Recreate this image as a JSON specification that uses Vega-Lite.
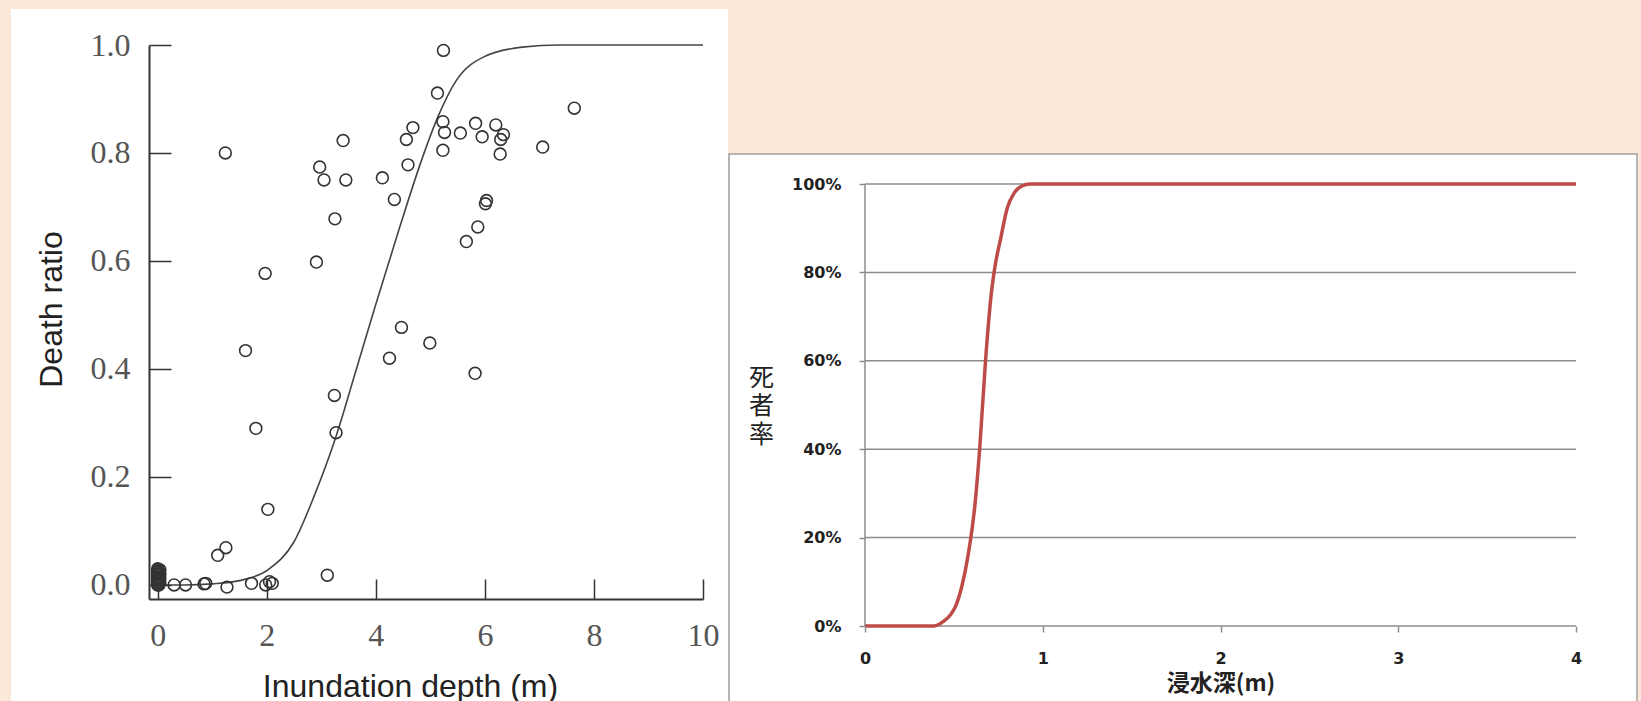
{
  "$schema": "https://vega.github.io/schema/vega-lite/v6.json",
  "background": "#fce8d9",
  "padding": {"left": 10, "top": 8, "right": 5, "bottom": 0},
  "spacing": 0,
  "config": {"view": {"stroke": null}, "axis": {"grid": false, "labelFlush": false, "labelOverlap": false}},
  "datasets": {
    "leftBox": [{"d": -2.691, "d2": 10.458, "r": -0.2167, "r2": 1.0667}],
    "leftCurve": [
      {"d": 0, "r": 0.0}, {"d": 0.5, "r": 0.0}, {"d": 1.0, "r": 0.002}, {"d": 1.5, "r": 0.008},
      {"d": 2.02, "r": 0.028}, {"d": 2.5, "r": 0.08}, {"d": 2.87, "r": 0.165}, {"d": 3.27, "r": 0.275},
      {"d": 3.6, "r": 0.385}, {"d": 4.0, "r": 0.52}, {"d": 4.43, "r": 0.66}, {"d": 4.85, "r": 0.79},
      {"d": 5.13, "r": 0.865}, {"d": 5.48, "r": 0.935}, {"d": 5.98, "r": 0.978}, {"d": 6.68, "r": 0.996},
      {"d": 7.38, "r": 1.0}, {"d": 8.5, "r": 1.0}, {"d": 10, "r": 1.0}
    ],
    "leftPoints": [
      {"d": 1.24, "r": 0.80}, {"d": 5.24, "r": 0.99}, {"d": 5.13, "r": 0.911}, {"d": 7.64, "r": 0.883},
      {"d": 5.23, "r": 0.858}, {"d": 5.26, "r": 0.838}, {"d": 5.23, "r": 0.805}, {"d": 5.55, "r": 0.837},
      {"d": 5.83, "r": 0.855}, {"d": 5.95, "r": 0.83}, {"d": 6.20, "r": 0.852}, {"d": 6.34, "r": 0.834},
      {"d": 6.29, "r": 0.825}, {"d": 6.28, "r": 0.798}, {"d": 7.06, "r": 0.811}, {"d": 4.68, "r": 0.847},
      {"d": 4.56, "r": 0.825}, {"d": 4.59, "r": 0.778}, {"d": 4.12, "r": 0.754}, {"d": 4.34, "r": 0.714},
      {"d": 3.40, "r": 0.823}, {"d": 2.97, "r": 0.774}, {"d": 3.05, "r": 0.75}, {"d": 3.45, "r": 0.75},
      {"d": 3.25, "r": 0.678}, {"d": 2.91, "r": 0.598}, {"d": 1.97, "r": 0.577}, {"d": 6.03, "r": 0.712},
      {"d": 6.01, "r": 0.706}, {"d": 5.87, "r": 0.663}, {"d": 5.66, "r": 0.636}, {"d": 4.47, "r": 0.477},
      {"d": 4.99, "r": 0.448}, {"d": 4.25, "r": 0.42}, {"d": 5.82, "r": 0.392}, {"d": 1.61, "r": 0.434},
      {"d": 3.24, "r": 0.351}, {"d": 1.80, "r": 0.29}, {"d": 3.27, "r": 0.282}, {"d": 2.02, "r": 0.14},
      {"d": 1.10, "r": 0.055}, {"d": 1.25, "r": 0.069}, {"d": 3.11, "r": 0.018}, {"d": 0.30, "r": 0.0},
      {"d": 0.51, "r": 0.0}, {"d": 0.85, "r": 0.002}, {"d": 0.88, "r": 0.003}, {"d": 1.27, "r": -0.004},
      {"d": 1.72, "r": 0.003}, {"d": 1.98, "r": 0.0}, {"d": 2.10, "r": 0.003}, {"d": 2.05, "r": 0.006},
      {"d": 0, "r": 0.0}, {"d": 0, "r": 0.003}, {"d": 0, "r": 0.006}, {"d": 0, "r": 0.009},
      {"d": 0, "r": 0.012}, {"d": 0, "r": 0.015}, {"d": 0, "r": 0.018}, {"d": 0, "r": 0.021},
      {"d": 0, "r": 0.024}, {"d": 0, "r": 0.027}, {"d": 0, "r": 0.03},
      {"d": 0.02, "r": 0.0}, {"d": 0.02, "r": 0.005}, {"d": 0.02, "r": 0.01}, {"d": 0.02, "r": 0.015},
      {"d": 0.02, "r": 0.02}, {"d": 0.02, "r": 0.025}, {"d": 0.04, "r": 0.004}, {"d": 0.04, "r": 0.012},
      {"d": 0.04, "r": 0.02}, {"d": 0.04, "r": 0.028}
    ],
    "rightBox": [{"d": -0.765, "d2": 4.343, "r": -0.1719, "r2": 1.0679}],
    "rightGrid": [{"r": 0}, {"r": 0.2}, {"r": 0.4}, {"r": 0.6}, {"r": 0.8}, {"r": 1.0}],
    "rightYLine": [{"d": 0, "r": 0, "r2": 1}],
    "rightCurve": [
      {"d": 0, "r": 0}, {"d": 0.39, "r": 0}, {"d": 0.44, "r": 0.01}, {"d": 0.48, "r": 0.025},
      {"d": 0.51, "r": 0.045}, {"d": 0.545, "r": 0.09}, {"d": 0.58, "r": 0.16}, {"d": 0.62, "r": 0.28},
      {"d": 0.645, "r": 0.40}, {"d": 0.678, "r": 0.60}, {"d": 0.71, "r": 0.75}, {"d": 0.73, "r": 0.81},
      {"d": 0.765, "r": 0.88}, {"d": 0.80, "r": 0.945}, {"d": 0.84, "r": 0.98}, {"d": 0.88, "r": 0.995},
      {"d": 0.93, "r": 1.0}, {"d": 2.0, "r": 1.0}, {"d": 4.0, "r": 1.0}
    ]
  },
  "hconcat": [
    {
      "width": 554,
      "height": 554,
      "encoding": {
        "x": {"field": "d", "type": "quantitative", "title": "Inundation depth (m)",
          "scale": {"domain": [-0.16, 10], "nice": false, "zero": false},
          "axis": {"values": [0, 2, 4, 6, 8, 10], "format": "d", "tickSize": -20, "tickWidth": 1.5, "tickColor": "#333333",
            "domainColor": "#333333", "domainWidth": 2, "labelFont": "Liberation Serif", "labelFontSize": 32,
            "labelColor": "#555555", "labelPadding": 41, "titleFont": "Liberation Sans", "titleFontSize": 32,
            "titleFontWeight": "normal", "titleColor": "#222222", "titleX": 261, "titleY": 97,
            "titleBaseline": "alphabetic", "titleAlign": "center", "zindex": 1}},
        "y": {"field": "r", "type": "quantitative", "title": "Death ratio",
          "scale": {"domain": [-0.026, 1], "nice": false, "zero": false},
          "axis": {"values": [0, 0.2, 0.4, 0.6, 0.8, 1], "format": ".1f", "tickSize": -22, "tickWidth": 1.5, "tickColor": "#333333",
            "domainColor": "#333333", "domainWidth": 2, "labelFont": "Liberation Serif", "labelFontSize": 32,
            "labelColor": "#555555", "labelPadding": 41, "titleFont": "Liberation Sans", "titleFontSize": 32,
            "titleFontWeight": "normal", "titleColor": "#222222", "titleX": -88, "titleY": 264, "titleAngle": 270,
            "titleBaseline": "alphabetic", "titleAlign": "center", "zindex": 1}}
      },
      "layer": [
        {"data": {"name": "leftBox"}, "mark": {"type": "rect", "fill": "#ffffff"},
          "encoding": {"x2": {"field": "d2"}, "y2": {"field": "r2"}}},
        {"data": {"name": "leftCurve"}, "mark": {"type": "line", "color": "#444444", "strokeWidth": 1.6, "interpolate": "monotone"}},
        {"data": {"name": "leftPoints"}, "mark": {"type": "point", "shape": "circle", "filled": false, "stroke": "#333333", "strokeWidth": 1.6, "size": 140, "opacity": 1}}
      ]
    },
    {
      "width": 711,
      "height": 581,
      "encoding": {
        "x": {"field": "d", "type": "quantitative", "title": "浸水深(m)",
          "scale": {"domain": [0, 4], "nice": false, "zero": false},
          "axis": {"values": [0, 1, 2, 3, 4], "format": "d", "domain": false, "tickSize": 6, "tickWidth": 1.5, "tickColor": "#8c8c8c",
            "labelFont": "DejaVu Sans", "labelFontWeight": "bold", "labelFontSize": 16, "labelColor": "#222222", "labelPadding": 18,
            "titleFont": "Noto Sans CJK JP", "titleFontSize": 23, "titleFontWeight": "bold", "titleColor": "#222222",
            "titleX": 355.5, "titleY": 64, "titleBaseline": "alphabetic", "titleAlign": "center", "zindex": 1}},
        "y": {"field": "r", "type": "quantitative", "title": ["死", "者", "率"],
          "scale": {"domain": [0, 1.31448], "nice": false, "zero": false},
          "axis": {"values": [0, 0.2, 0.4, 0.6, 0.8, 1], "format": ".0%", "domain": false,
            "tickSize": 6, "tickWidth": 1.5, "tickColor": "#8c8c8c",
            "labelFont": "DejaVu Sans", "labelFontWeight": "bold", "labelFontSize": 16, "labelColor": "#222222", "labelPadding": 18,
            "titleFont": "Noto Sans CJK JP", "titleFontSize": 25, "titleFontWeight": "normal", "titleColor": "#222222",
            "titleLineHeight": 28.5, "titleAngle": 0, "titleX": -104, "titleY": 332, "titleAlign": "center",
            "titleBaseline": "middle", "zindex": 1}}
      },
      "layer": [
        {"data": {"name": "rightBox"}, "mark": {"type": "rect", "fill": "#ffffff", "stroke": "#a0a0a0", "strokeWidth": 1.5},
          "encoding": {"x2": {"field": "d2"}, "y2": {"field": "r2"}}},
        {"data": {"name": "rightGrid"}, "mark": {"type": "rule", "color": "#8c8c8c", "strokeWidth": 1.5},
          "encoding": {"x": null}},
        {"data": {"name": "rightYLine"}, "mark": {"type": "rule", "color": "#8c8c8c", "strokeWidth": 1.5},
          "encoding": {"y2": {"field": "r2"}}},
        {"data": {"name": "rightCurve"}, "mark": {"type": "line", "color": "#be4b48", "strokeWidth": 3.5, "interpolate": "monotone"}}
      ]
    }
  ]
}
